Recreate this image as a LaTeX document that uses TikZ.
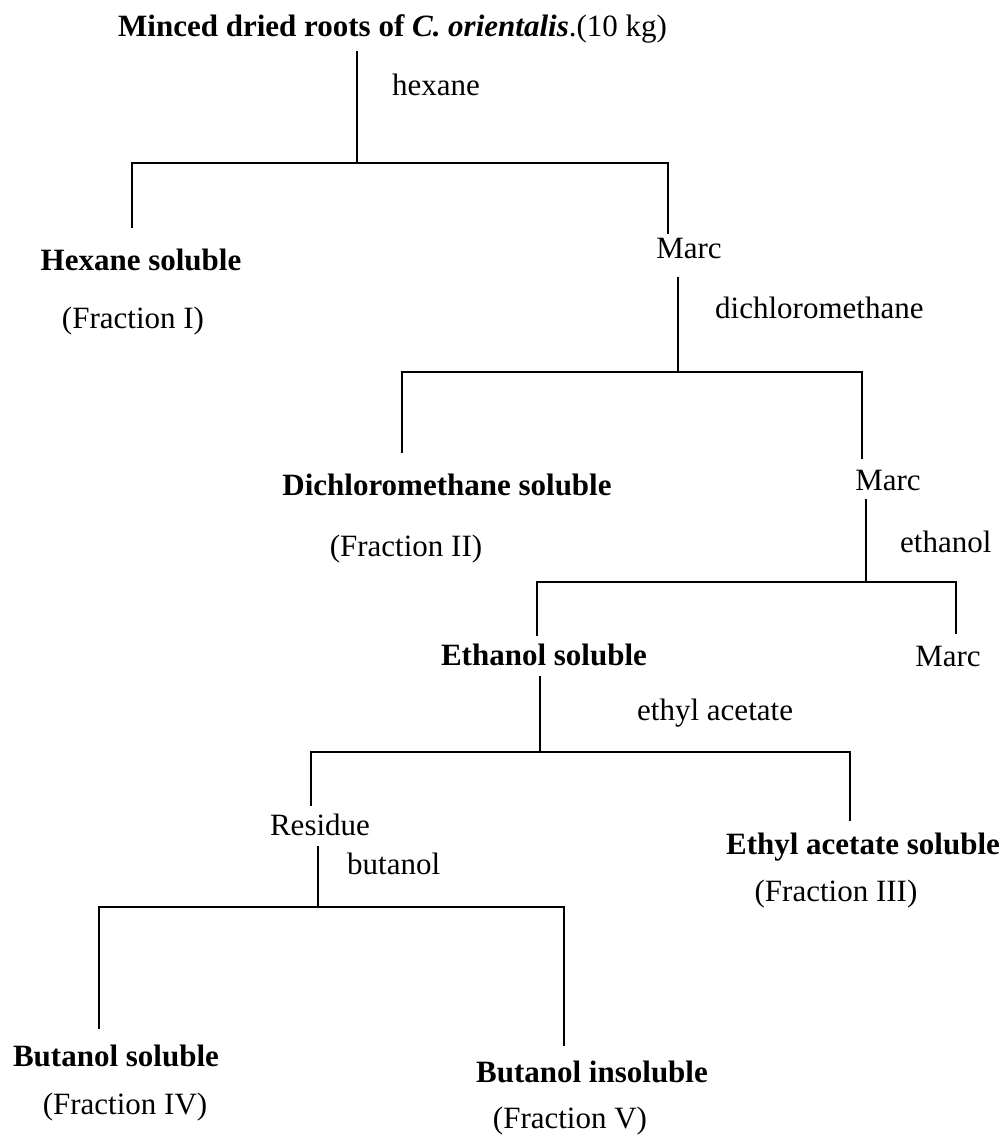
\documentclass[tikz,border=0pt]{standalone}
\usepackage{fontspec}
\setmainfont{Liberation Serif}
\begin{document}
\begin{tikzpicture}[x=1pt,y=-1pt,
  lbl/.style={inner sep=0pt, anchor=base, font=\fontsize{31}{36}\selectfont},
  hdr/.style={lbl, font=\fontsize{31}{36}\selectfont\bfseries},
  ln/.style={line width=2.2pt, line cap=rect}]
\useasboundingbox (0,0) rectangle (1002,1140);
\fill[white] (0,0) rectangle (1002,1140);

% level 1
\node[hdr, anchor=base west] (title) at (118,37) {Minced dried roots of \textit{C. orientalis}\textmd{.(10 kg)}};
\node[lbl, anchor=base west] (hexane) at (392,95) {hexane};
\coordinate (s1top) at (357,52);
\coordinate (j1) at (357,163);
\coordinate (j1l) at (132,163);
\coordinate (j1r) at (668,163);
\coordinate (e1l) at (132,227);
\coordinate (e1r) at (668,233);
\draw[ln] (s1top) -- (j1);
\draw[ln] (e1l) -- (j1l) -- (j1r) -- (e1r);
\node[hdr] (hexsol) at (141,270) {Hexane soluble};
\node[lbl] (fr1) at (133,328) {(Fraction I)};
\node[lbl] (marc1) at (689,258) {Marc};

% level 2
\node[lbl, anchor=base west] (dcm) at (715,318) {dichloromethane};
\coordinate (s2top) at (678,278);
\coordinate (j2) at (678,372);
\coordinate (j2l) at (402,372);
\coordinate (j2r) at (862,372);
\coordinate (e2l) at (402,452);
\coordinate (e2r) at (862,458);
\draw[ln] (s2top) -- (j2);
\draw[ln] (e2l) -- (j2l) -- (j2r) -- (e2r);
\node[hdr] (dcmsol) at (447,495) {Dichloromethane soluble};
\node[lbl] (fr2) at (406,556) {(Fraction II)};
\node[lbl] (marc2) at (888,490) {Marc};

% level 3
\node[lbl, anchor=base west] (eth) at (900,552) {ethanol};
\coordinate (s3top) at (866,500);
\coordinate (j3) at (866,582);
\coordinate (j3l) at (537,582);
\coordinate (j3r) at (956,582);
\coordinate (e3l) at (537,635);
\coordinate (e3r) at (956,633);
\draw[ln] (s3top) -- (j3);
\draw[ln] (e3l) -- (j3l) -- (j3r) -- (e3r);
\node[hdr] (ethsol) at (544,665) {Ethanol soluble};
\node[lbl] (marc3) at (948,666) {Marc};

% level 4
\node[lbl, anchor=base west] (etac) at (637,720) {ethyl acetate};
\coordinate (s4top) at (540,677);
\coordinate (j4) at (540,752);
\coordinate (j4l) at (311,752);
\coordinate (j4r) at (850,752);
\coordinate (e4l) at (311,805);
\coordinate (e4r) at (850,820);
\draw[ln] (s4top) -- (j4);
\draw[ln] (e4l) -- (j4l) -- (j4r) -- (e4r);
\node[lbl] (res) at (320,835) {Residue};
\node[hdr] (etacsol) at (863,854) {Ethyl acetate soluble};
\node[lbl] (fr3) at (836,901) {(Fraction III)};

% level 5
\node[lbl, anchor=base west] (but) at (347,874) {butanol};
\coordinate (s5top) at (318,847);
\coordinate (j5) at (318,907);
\coordinate (j5l) at (99,907);
\coordinate (j5r) at (564,907);
\coordinate (e5l) at (99,1028);
\coordinate (e5r) at (564,1045);
\draw[ln] (s5top) -- (j5);
\draw[ln] (e5l) -- (j5l) -- (j5r) -- (e5r);
\node[hdr] (butsol) at (116,1066) {Butanol soluble};
\node[lbl] (fr4) at (125,1114) {(Fraction IV)};
\node[hdr] (butins) at (592,1082) {Butanol insoluble};
\node[lbl] (fr5) at (570,1128) {(Fraction V)};
\end{tikzpicture}
\end{document}
